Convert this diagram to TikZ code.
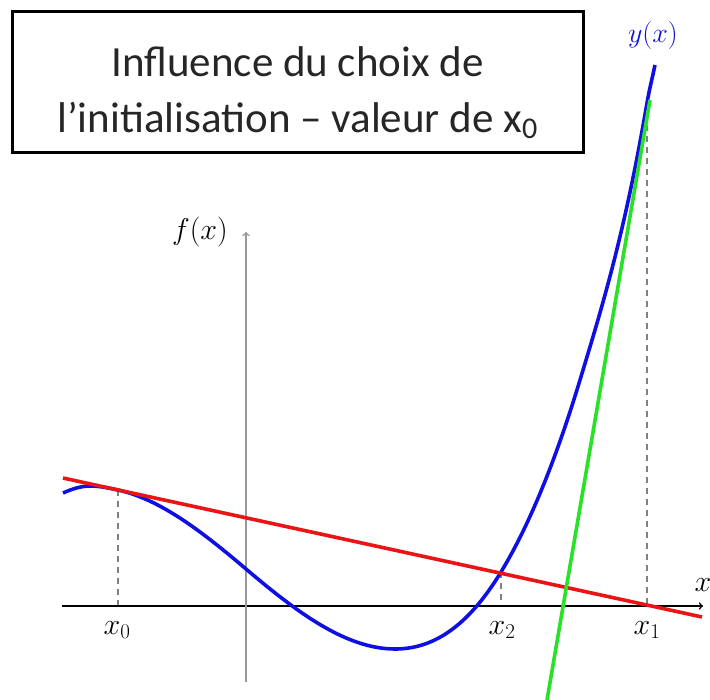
\RequirePackage{fix-cm}
\documentclass[tikz,border=0pt]{standalone}
\usepackage{fontspec}
\newfontfamily\titlefont{Carlito}
\definecolor{curveblue}{RGB}{15,15,225}
\definecolor{tanred}{RGB}{235,20,20}
\definecolor{tangreen}{RGB}{40,225,40}
\begin{document}
\begin{tikzpicture}[
  x=1pt, y=-1pt,
  curve/.style={line width=3.6pt},
  axis/.style={line width=1.6pt, ->},
  guide/.style={gray, line width=1.3pt, dash pattern=on 6pt off 5pt},
  lbl/.style={font=\fontsize{30}{36}\selectfont, inner sep=0pt}
]
\useasboundingbox (0,0) rectangle (710,700);
\node[draw, line width=3pt, minimum width=571pt, minimum height=141pt] (title) at (297.5,82.5) {};
\node[align=center, inner sep=0pt, font=\titlefont\fontsize{43}{56}\selectfont, text=black!85]
  (titletext) at ([yshift=-10pt]title.center)
  {Influence du choix de\\l’initialisation – valeur de x\textsubscript{0}};
\coordinate (xl) at (62,606);
\coordinate (xr) at (703,606);
\coordinate (yb) at (246,682);
\coordinate (yt) at (246,232);
\coordinate (p0) at (118,490);
\coordinate (p2) at (501,572);
\coordinate (p1) at (647,103);
\draw[guide] (p0) -- (p0 |- xl);
\draw[guide] (p2) -- (p2 |- xl);
\draw[guide] (p1) -- (p1 |- xl);
\draw[axis] (xl) -- (xr);
\draw[axis, gray!80] (yb) -- (yt);
\node[lbl] (fx) at (200,232) {$f(x)$};
\node[lbl] (xx) at (703,585) {$x$};
\node[lbl] (x0) at (117,630) {$x_0$};
\node[lbl] (x2) at (502,630) {$x_2$};
\node[lbl] (x1) at (647,630) {$x_1$};
\node[lbl, text=curveblue, font=\fontsize{28}{34}\selectfont] (yx) at (653,36) {$y(x)$};
\draw[curve, curveblue] (63,493) .. controls (72,489) and (81,486) .. (90,486)
  .. controls (99.3,486) and (108.7,488) .. (p0)
  .. controls (160.7,499.3) and (203.3,532.7) .. (246,569)
  .. controls (295.7,611.2) and (345.3,649) .. (395,649)
  .. controls (430.3,649) and (465.7,630.2) .. (p2)
  .. controls (527.3,528.6) and (553.7,466.8) .. (580,380)
  .. controls (602.3,306.4) and (624.7,233.5) .. (p1)
  .. controls (649.7,87.4) and (652.3,78.3) .. (655,65);
\coordinate (r0) at (63,478);
\coordinate (r1) at (702,617);
\draw[curve, tanred] (r0) -- (r1);
\coordinate (g0) at (547,700);
\coordinate (g1) at (650,100);
\draw[curve, tangreen] (g0) -- (g1);
\end{tikzpicture}
\end{document}
